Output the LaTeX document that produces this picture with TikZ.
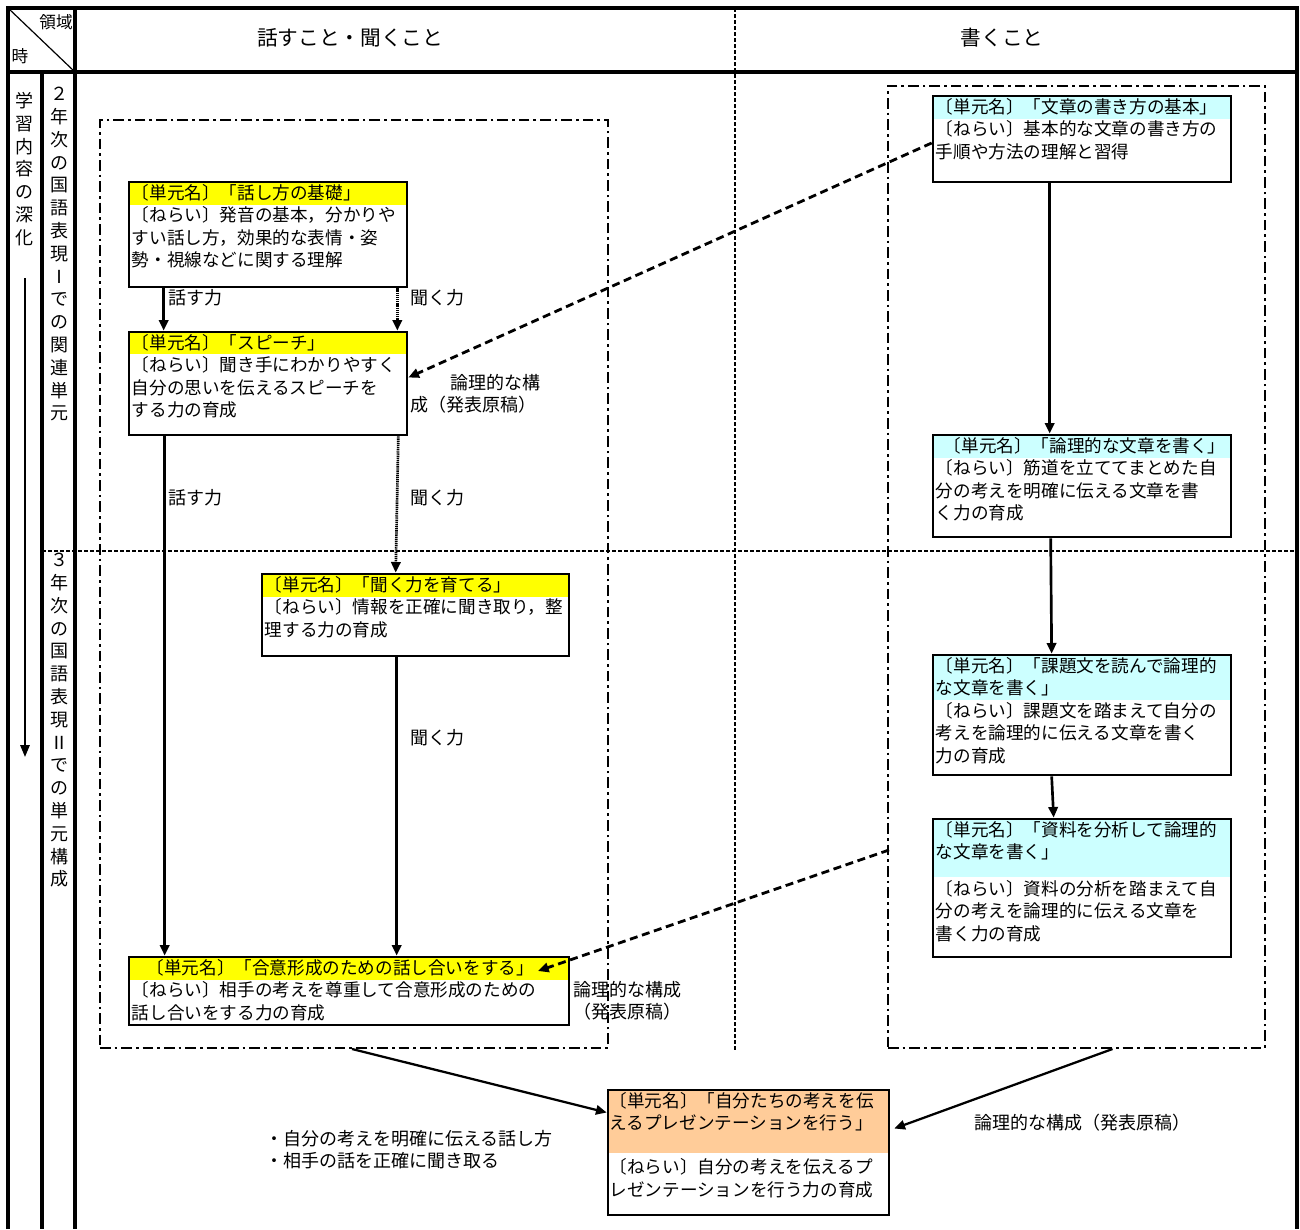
\documentclass[tikz,border=0pt]{standalone}
\usepackage{fontspec}
\setmainfont{Noto Sans CJK JP}
\usetikzlibrary{fit,arrows.meta}
\definecolor{hanasu}{HTML}{FFFF00}
\definecolor{kaku}{HTML}{CCFFFF}
\definecolor{happyo}{HTML}{FFCC99}
\tikzset{
  frame/.style={line width=2.3pt},
  unit/.style={draw,line width=2pt,inner sep=0pt},
  hdr/.style 2 args={path picture={\fill[#1] (path picture bounding box.north west) rectangle ([yshift=-#2]path picture bounding box.north east);}},
  utext/.style={anchor=north west,align=left,inner sep=0pt,font=\fontsize{13.2}{16.9}\selectfont},
  lbl/.style={inner sep=0pt,align=left,font=\fontsize{13.5}{16.5}\selectfont},
  tate/.style={anchor=north,align=center,inner sep=0pt,font=\fontsize{13.5}{17.1}\selectfont},
  group/.style={draw,line width=1.5pt,inner sep=0pt,dash pattern=on 8pt off 3pt on 2pt off 3pt},
  flow/.style={line width=2pt,-{Triangle[length=8pt,width=7pt]}},
  listen/.style={flow,dash pattern=on 1pt off 0.6pt},
  link/.style={line width=2.1pt,dash pattern=on 6pt off 3.5pt,-{Triangle[length=8pt,width=7pt]}}
}
\begin{document}
\begin{tikzpicture}[x=0.75pt,y=-0.75pt]
\useasboundingbox (0,0) rectangle (1300,1229);
\draw[frame] (8,1229) -- (8,8) -- (1297,8) -- (1297,1229);
\draw[frame] (8,72) -- (1297,72);
\draw[frame] (75,8) -- (75,1229);
\draw[frame] (42,72) -- (42,1229);
\draw[line width=0.9pt] (8,8) -- (75,72);
\draw[line width=0.9pt,dash pattern=on 3pt off 1.5pt] (735,8) -- (735,1050);
\draw[line width=0.9pt,dash pattern=on 3pt off 1.5pt] (42,551) -- (1297,551);
\node[lbl,font=\fontsize{12.5}{14}\selectfont] (ryoiki) at (56,22) {領域};
\node[lbl,font=\fontsize{12.5}{14}\selectfont] (toki) at (20,56) {時};
\node[lbl,font=\fontsize{15.5}{18}\selectfont] (hd1) at (350,38) {話すこと・聞くこと};
\node[lbl,font=\fontsize{15.5}{18}\selectfont] (hd2) at (1002,38) {書くこと};
\node[tate] (shinka) at (25,92) {学\\習\\内\\容\\の\\深\\化};
\node[tate] (nen2) at (59,87) {２\\年\\次\\の\\国\\語\\表\\現\\Ⅰ\\で\\の\\関\\連\\単\\元};
\node[tate] (nen3) at (59,553) {３\\年\\次\\の\\国\\語\\表\\現\\Ⅱ\\で\\の\\単\\元\\構\\成};
\coordinate (dA) at (25,278);
\coordinate (dB) at (25,757);
\draw[line width=1.5pt,-{Triangle[length=9pt,width=7pt]}] (dA) -- (dB);

\node[group,fit={(100,120) (608,1048)}] (gL) {};
\node[group,fit={(888,86) (1265,1048)}] (gR) {};

\node[unit,hdr={hanasu}{17.25pt},fill=white,fit={(129,182) (407,287)}] (b1) {};
\node[utext] (t1) at ([xshift=3pt,yshift=-2.5pt]b1.north west) {〔単元名〕「話し方の基礎」\\〔ねらい〕発音の基本，分かりや\\すい話し方，効果的な表情・姿\\勢・視線などに関する理解};
\node[unit,hdr={hanasu}{16.5pt},fill=white,fit={(129,332) (407,435)}] (b2) {};
\node[utext] (t2) at ([xshift=3pt,yshift=-2.5pt]b2.north west) {〔単元名〕「スピーチ」\\〔ねらい〕聞き手にわかりやすく\\自分の思いを伝えるスピーチを\\する力の育成};
\node[unit,hdr={hanasu}{17.25pt},fill=white,fit={(262,574) (569,656)}] (b3) {};
\node[utext] (t3) at ([xshift=3pt,yshift=-2.5pt]b3.north west) {〔単元名〕「聞く力を育てる」\\〔ねらい〕情報を正確に聞き取り，整\\理する力の育成};
\node[unit,hdr={hanasu}{17.25pt},fill=white,fit={(129,957) (569,1025)}] (b4) {};
\node[utext] (t4) at ([xshift=3pt,yshift=-2.5pt]b4.north west) {\hspace*{11pt}〔単元名〕「合意形成のための話し合いをする」\\〔ねらい〕相手の考えを尊重して合意形成のための\\話し合いをする力の育成};

\node[unit,hdr={kaku}{17.25pt},fill=white,fit={(933,96) (1231,182)}] (b5) {};
\node[utext] (t5) at ([xshift=3pt,yshift=-2.5pt]b5.north west) {〔単元名〕「文章の書き方の基本」\\〔ねらい〕基本的な文章の書き方の\\手順や方法の理解と習得};
\node[unit,hdr={kaku}{17.25pt},fill=white,fit={(933,435) (1231,537)}] (b6) {};
\node[utext] (t6) at ([xshift=3pt,yshift=-2.5pt]b6.north west) {\hspace*{6pt}〔単元名〕「論理的な文章を書く」\\〔ねらい〕筋道を立ててまとめた自\\分の考えを明確に伝える文章を書\\く力の育成};
\node[unit,hdr={kaku}{34pt},fill=white,fit={(933,655) (1231,775)}] (b7) {};
\node[utext] (t7) at ([xshift=3pt,yshift=-2.5pt]b7.north west) {〔単元名〕「課題文を読んで論理的\\な文章を書く」\\〔ねらい〕課題文を踏まえて自分の\\考えを論理的に伝える文章を書く\\力の育成};
\node[unit,hdr={kaku}{43.5pt},fill=white,fit={(933,819) (1231,957)}] (b8) {};
\node[utext] (t8) at ([xshift=3pt,yshift=-2.5pt]b8.north west) {〔単元名〕「資料を分析して論理的\\な文章を書く」\\[10.5pt]〔ねらい〕資料の分析を踏まえて自\\分の考えを論理的に伝える文章を\\書く力の育成};

\node[unit,hdr={happyo}{47pt},fill=white,fit={(608,1090) (889,1215)}] (b9) {};
\node[utext] (t9) at ([xshift=2pt,yshift=-2.5pt]b9.north west) {〔単元名〕「自分たちの考えを伝\\えるプレゼンテーションを行う」\\[16pt]〔ねらい〕自分の考えを伝えるプ\\レゼンテーションを行う力の育成};

\draw[flow] ([xshift=27pt]b1.south west) -- ([xshift=27pt]b2.north west);
\draw[listen] ([xshift=-8.25pt]b1.south east) -- ([xshift=-8.25pt]b2.north east);
\draw[flow] ([xshift=27.75pt]b2.south west) -- ([xshift=27.75pt]b4.north west);
\draw[listen] ([xshift=-7.5pt]b2.south east) -- ([xshift=101.25pt]b3.north west);
\draw[flow] ([xshift=102pt]b3.south west) -- ([xshift=201.75pt]b4.north west);
\draw[flow] ([xshift=88.5pt]b5.south west) -- ([xshift=88.5pt]b6.north west);
\draw[flow] ([xshift=89.25pt]b6.south west) -- ([xshift=90pt]b7.north west);
\draw[flow] ([xshift=90pt]b7.south west) -- ([xshift=91.5pt]b8.north west);
\draw[link] ([yshift=-3pt]b5.west) -- ([yshift=4.5pt]b2.east);
\coordinate (fromR) at (889,850);
\coordinate (toB4) at (538,971);
\draw[link] (fromR) -- (toB4);
\draw[flow,line width=1.7pt] ([xshift=-1.5pt]gL.south) -- ([yshift=30pt]b9.west);
\draw[flow,line width=1.7pt] ([xshift=27pt]gR.south) -- ([xshift=3pt,yshift=18pt]b9.east);

\node[lbl,anchor=west] (k1) at (168,298) {話す力};
\node[lbl,anchor=west] (k2) at (410,298) {聞く力};
\node[lbl,anchor=west] (k3) at (168,498) {話す力};
\node[lbl,anchor=west] (k4) at (410,498) {聞く力};
\node[lbl,anchor=west] (k5) at (410,738) {聞く力};
\node[lbl,anchor=north west] (r1) at (410,374) {\hspace*{30pt}論理的な構\\成（発表原稿）};
\node[lbl,anchor=north west] (r2) at (573,981) {論理的な構成\\（発表原稿）};
\node[lbl] (r3) at (1082,1123) {論理的な構成（発表原稿）};
\node[lbl,anchor=north west] (m1) at (265,1130) {・自分の考えを明確に伝える話し方\\・相手の話を正確に聞き取る};
\end{tikzpicture}
\end{document}
